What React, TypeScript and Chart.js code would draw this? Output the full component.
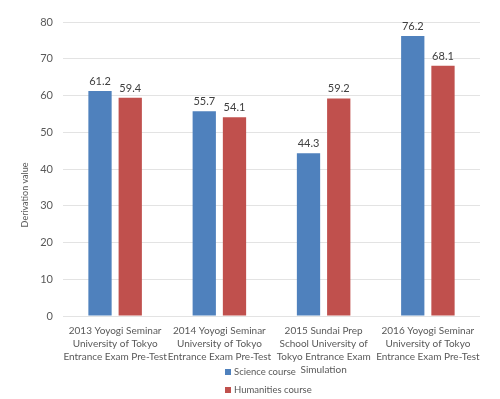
import React, { useEffect, useRef } from "react";
import { Chart, registerables } from "chart.js";

Chart.register(...registerables);

const categories: string[][] = [
  ["2013 Yoyogi Seminar", "University of Tokyo", "Entrance Exam Pre-Test"],
  ["2014 Yoyogi Seminar", "University of Tokyo", "Entrance Exam Pre-Test"],
  ["2015 Sundai Prep", "School University of", "Tokyo Entrance Exam", "Simulation"],
  ["2016 Yoyogi Seminar", "University of Tokyo", "Entrance Exam Pre-Test"],
];
const scienceValues = [61.2, 55.7, 44.3, 76.2];
const humanitiesValues = [59.4, 54.1, 59.2, 68.1];
const seriesNames = ["Science course", "Humanities course"];
const seriesColors = ["#4F81BD", "#C0504D"];
const yTitle = "Derivation value";

const FONT = "Lato, 'Liberation Sans', sans-serif";

const valueLabels = {
  id: "valueLabels",
  afterDatasetsDraw(chart: any) {
    const ctx = chart.ctx;
    ctx.save();
    ctx.font = `11px ${FONT}`;
    ctx.fillStyle = "#404040";
    ctx.textAlign = "center";
    ctx.textBaseline = "bottom";
    chart.data.datasets.forEach((ds: any, i: number) => {
      const meta = chart.getDatasetMeta(i);
      meta.data.forEach((bar: any, j: number) => {
        ctx.fillText(String(ds.data[j].toFixed(1)), bar.x, bar.y - 4);
      });
    });
    ctx.restore();
  },
};

const yTitlePlugin = {
  id: "yTitlePlugin",
  afterDraw(chart: any) {
    const ctx = chart.ctx;
    ctx.save();
    ctx.font = `9px ${FONT}`;
    ctx.fillStyle = "#595959";
    ctx.textAlign = "center";
    ctx.textBaseline = "middle";
    ctx.translate(25, 195);
    ctx.rotate(-Math.PI / 2);
    ctx.fillText(yTitle, 0, 0);
    ctx.restore();
  },
};

export default function App() {
  const ref = useRef<HTMLCanvasElement>(null);
  useEffect(() => {
    const chart = new Chart(ref.current!, {
      type: "bar",
      data: {
        labels: categories,
        datasets: [
          {
            label: seriesNames[0],
            data: scienceValues,
            backgroundColor: seriesColors[0],
            categoryPercentage: 0.58,
            barPercentage: 0.77,
          },
          {
            label: seriesNames[1],
            data: humanitiesValues,
            backgroundColor: seriesColors[1],
            categoryPercentage: 0.58,
            barPercentage: 0.77,
          },
        ],
      },
      options: {
        responsive: false,
        animation: false,
        layout: { padding: { top: 22, right: 20, left: 0, bottom: 0 } },
        plugins: {
          legend: { display: false },
          tooltip: { enabled: false },
        },
        scales: {
          x: {
            grid: { display: false, drawTicks: false },
            border: { display: false },
            ticks: {
              autoSkip: false,
              maxRotation: 0,
              minRotation: 0,
              color: "#595959",
              font: { family: FONT, size: 10, lineHeight: 1.3 },
              padding: 8,
            },
            afterFit: (scale: any) => {
              scale.height = 83;
            },
          },
          y: {
            min: 0,
            max: 80,
            ticks: {
              stepSize: 10,
              color: "#595959",
              font: { family: FONT, size: 11 },
              padding: 10,
            },
            grid: { color: "#e3e3e3", drawTicks: false },
            border: { display: false },
            afterFit: (scale: any) => {
              scale.width = 63;
            },
          },
        },
      },
      plugins: [valueLabels, yTitlePlugin],
    });
    return () => chart.destroy();
  }, []);

  const legendItem = (i: number, top: number) => (
    <div
      key={i}
      style={{
        position: "absolute",
        left: 225,
        top,
        display: "flex",
        alignItems: "center",
        font: `9.5px ${FONT}`,
        color: "#595959",
        whiteSpace: "nowrap",
        lineHeight: "12px",
      }}
    >
      <span
        style={{
          display: "inline-block",
          width: 6,
          height: 6,
          background: seriesColors[i],
          marginRight: 3,
        }}
      />
      {seriesNames[i]}
    </div>
  );

  return (
    <div style={{ position: "absolute", left: 0, top: 0, width: 500, height: 399, background: "#fff" }}>
      <canvas ref={ref} width={500} height={399} />
      {legendItem(0, 366)}
      {legendItem(1, 384)}
    </div>
  );
}
